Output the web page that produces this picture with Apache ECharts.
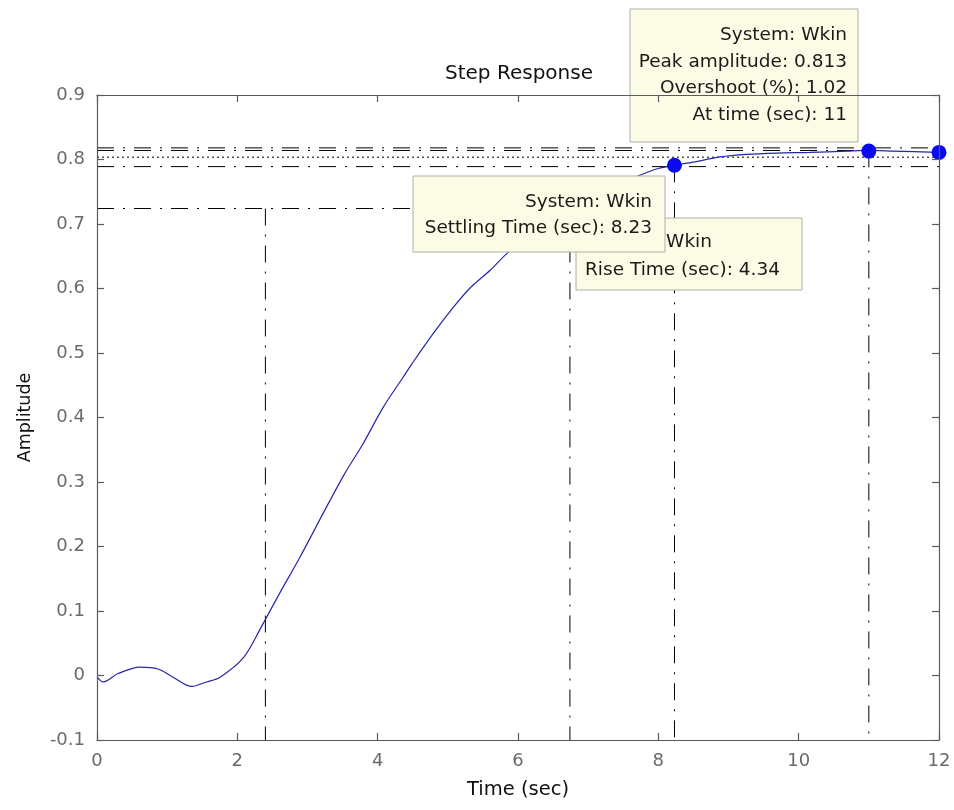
<!DOCTYPE html>
<html><head><meta charset="utf-8">
<script src="https://cdn.jsdelivr.net/npm/echarts@6/dist/echarts.min.js"></script>
<style>html,body{margin:0;padding:0;background:#fff}#c{width:954px;height:810px}</style>
</head><body><div id="c"></div>
<script>
// ---- data ----
const timeSec = [0, 0.09, 0.3, 0.61, 0.87, 1.09, 1.35, 1.56, 1.75, 2.09, 2.34, 2.6, 2.89, 3.27, 3.53, 3.79, 4.08, 4.36, 4.5, 4.79, 5.08, 5.31, 5.6, 5.84, 6.0, 6.3, 6.74, 7.0, 7.3, 7.79, 8.0, 8.23, 8.5, 8.88, 9.26, 9.69, 10.16, 10.69, 11.0, 11.35, 12];
const amplitude = [-0.002, -0.01, 0.003, 0.013, 0.01, -0.003, -0.017, -0.01, -0.003, 0.028, 0.075, 0.127, 0.183, 0.261, 0.313, 0.359, 0.416, 0.462, 0.485, 0.53, 0.571, 0.6, 0.628, 0.654, 0.667, 0.692, 0.723, 0.74, 0.756, 0.778, 0.786, 0.791, 0.796, 0.804, 0.808, 0.81, 0.811, 0.813, 0.814, 0.813, 0.811];

const markerTimes = [8.23, 11, 12];
const markerValues = [0.791, 0.813, 0.811];

const riseStart = 2.40, riseEnd = 6.74, riseLevel = 0.724;
const settleTime = 8.23, settleValue = 0.791;
const peakTime = 11, peakValue = 0.814;
const settleUpper = 0.818, settleLower = 0.789, finalValue = 0.8036;
const xMin = 0, xMax = 12, yMin = -0.1, yMax = 0.9;

const xTicks = [0, 2, 4, 6, 8, 10, 12];
const yTicks = [-0.1, 0, 0.1, 0.2, 0.3, 0.4, 0.5, 0.6, 0.7, 0.8, 0.9];

const peakTip = ['System: Wkin', 'Peak amplitude: 0.813', 'Overshoot (%): 1.02', 'At time (sec): 11'];
const settleTip = ['System: Wkin', 'Settling Time (sec): 8.23'];
const riseTip = ['System: Wkin', 'Rise Time (sec): 4.34'];

// ---- chart ----
const FONT = 'DejaVu Sans';
const dashDot = [17, 9, 2, 9];
const chart = echarts.init(document.getElementById('c'), null, {renderer: 'canvas'});

function refLine(points, type) {
  return {
    type: 'line', data: points, symbol: 'none', silent: true, z: 3,
    lineStyle: {color: '#000', width: 1, type: type || dashDot}, animation: false
  };
}

const axisLineStyle = {color: '#5a5a5a', width: 1.2};
const tipBg = '#fbfbe6', tipBorder = '#b0b0a8';

function tipBox(x, y, w, h, lines, align, textX, lineYs, zb) {
  const children = [{
    type: 'rect', z: zb, shape: {x: x, y: y, width: w, height: h},
    style: {fill: tipBg, stroke: tipBorder, lineWidth: 1}
  }];
  lines.forEach((t, i) => children.push({
    type: 'text', z: zb + 1, x: textX, y: lineYs[i],
    style: {text: t, font: '18.5px "' + FONT + '"', fill: '#1a1a1a', textAlign: align, textVerticalAlign: 'middle'}
  }));
  return children;
}

chart.setOption({
  backgroundColor: '#fff',
  animation: false,
  title: {
    text: 'Step Response', left: 514, top: 59, textAlign: 'center',
    textStyle: {fontFamily: FONT, fontSize: 20, fontWeight: 'normal', color: '#111'}
  },
  grid: {left: 97, right: 15, top: 95, bottom: 70, containLabel: false},
  xAxis: [{
    type: 'value', min: xMin, max: xMax, interval: 2, position: 'bottom', z: 100,
    name: 'Time (sec)', nameLocation: 'middle', nameGap: 40,
    nameTextStyle: {fontFamily: FONT, fontSize: 19.5, color: '#111'},
    axisLine: {show: true, onZero: false, lineStyle: axisLineStyle},
    axisTick: {show: true, inside: true, length: 7, lineStyle: axisLineStyle},
    axisLabel: {fontFamily: FONT, fontSize: 18, color: '#6a6a6a', margin: 12,
      formatter: v => xTicks.includes(v) ? String(v) : ''},
    splitLine: {show: false}
  }, {
    type: 'value', min: xMin, max: xMax, interval: 2, position: 'top', zlevel: 1,
    axisLine: {show: true, onZero: false, lineStyle: axisLineStyle},
    axisTick: {show: true, inside: true, length: 7, lineStyle: axisLineStyle},
    axisLabel: {show: false}, splitLine: {show: false}
  }],
  yAxis: [{
    type: 'value', min: yMin, max: yMax, interval: 0.1, position: 'left', z: 100,
    name: 'Amplitude', nameLocation: 'middle', nameGap: 63, nameRotate: 90,
    nameTextStyle: {fontFamily: FONT, fontSize: 17.5, color: '#111'},
    axisLine: {show: true, onZero: false, lineStyle: axisLineStyle},
    axisTick: {show: true, inside: true, length: 7, lineStyle: axisLineStyle},
    axisLabel: {fontFamily: FONT, fontSize: 18, color: '#6a6a6a', margin: 12,
      formatter: v => { const r = +v.toFixed(1); return yTicks.includes(r) ? String(r) : ''; }},
    splitLine: {show: false}
  }, {
    type: 'value', min: yMin, max: yMax, interval: 0.1, position: 'right', z: 100,
    axisLine: {show: true, onZero: false, lineStyle: axisLineStyle},
    axisTick: {show: true, inside: true, length: 7, lineStyle: axisLineStyle},
    axisLabel: {show: false}, splitLine: {show: false}
  }],
  series: [
    refLine([[xMin, settleUpper], [xMax, settleUpper]]),
    refLine([[xMin, peakValue], [peakTime, peakValue]]),
    refLine([[xMin, finalValue], [xMax, finalValue]], [2, 3]),
    refLine([[xMin, settleLower], [xMax, settleLower]]),
    refLine([[xMin, riseLevel], [riseEnd, riseLevel]]),
    refLine([[riseStart, riseLevel], [riseStart, yMin]]),
    refLine([[riseEnd, riseLevel], [riseEnd, yMin]]),
    refLine([[settleTime, settleValue], [settleTime, yMin]]),
    refLine([[peakTime, peakValue], [peakTime, yMin]]),
    {
      type: 'line', data: timeSec.map((t, i) => [t, amplitude[i]]),
      symbol: 'none', smooth: 0.3, z: 4,
      lineStyle: {color: '#2626a8', width: 1.2}
    },
    {
      type: 'scatter', data: markerTimes.map((t, i) => [t, markerValues[i]]),
      symbol: 'circle', symbolSize: 15, z: 80,
      itemStyle: {color: '#0a0af0', opacity: 1}
    }
  ],
  graphic: [].concat(
    tipBox(576, 218, 226, 72, riseTip, 'left', 585, [242, 270], 50),
    tipBox(413, 176, 252, 76, settleTip, 'right', 652, [202, 228], 53),
    tipBox(630, 9, 228, 133, peakTip, 'right', 847, [35, 62, 88, 115], 56)
  )
});
</script></body></html>
